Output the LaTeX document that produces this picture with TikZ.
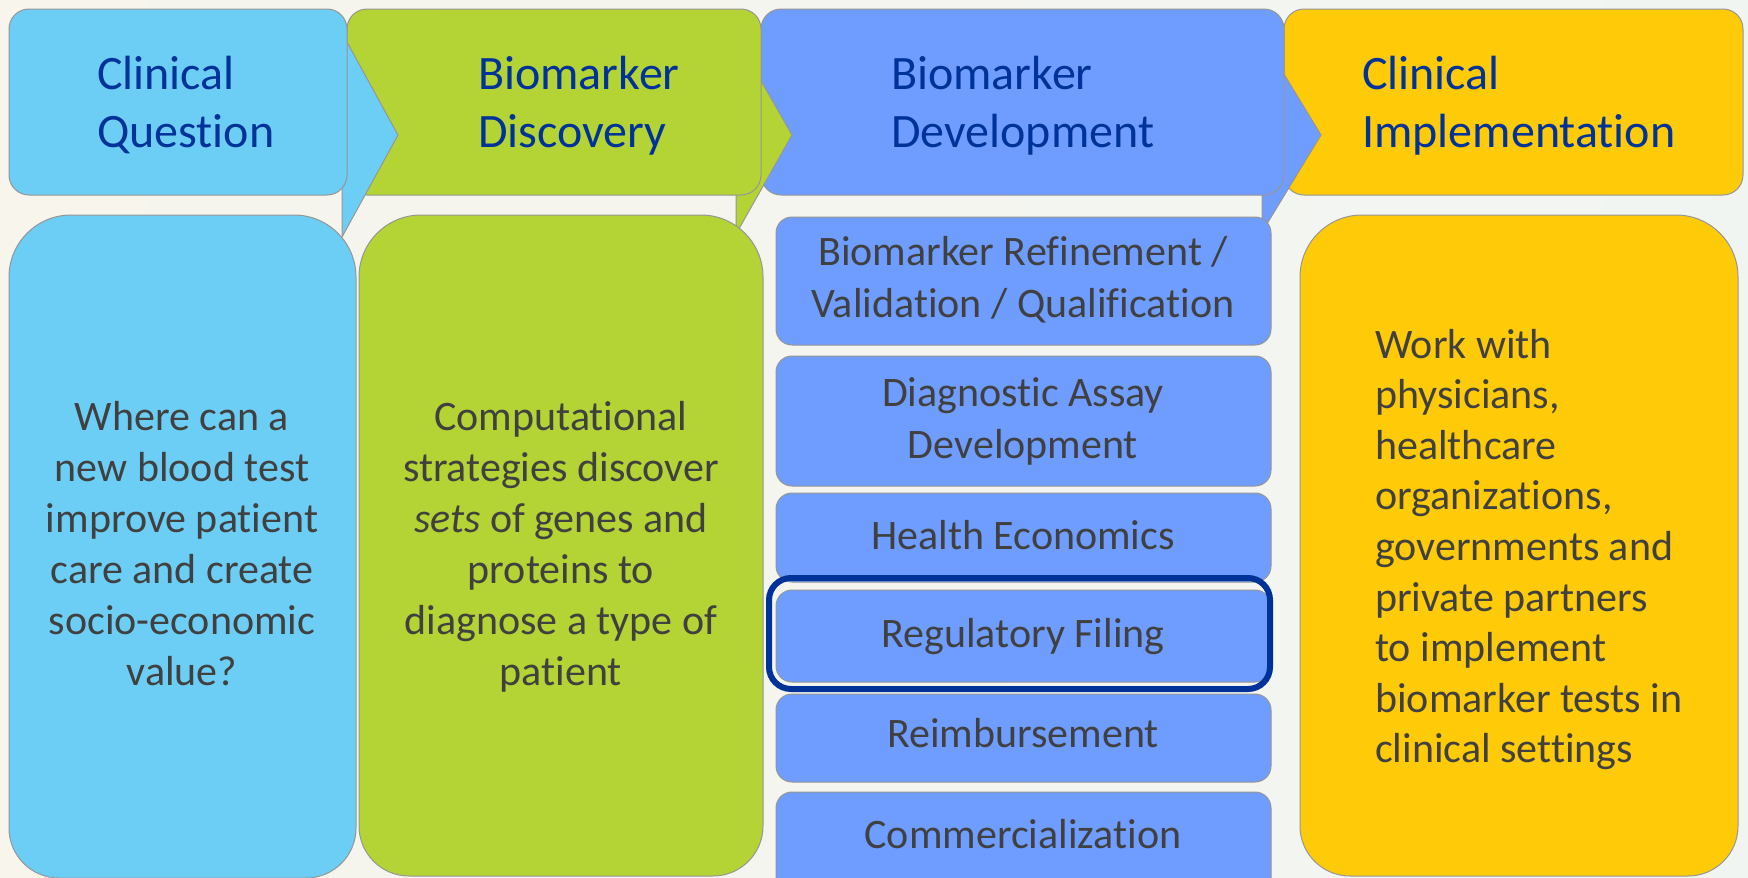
\documentclass[tikz,border=0pt]{standalone}
\usepackage{fontspec}
\setmainfont{Carlito}[Ligatures={NoCommon}]
\definecolor{cqblue}{RGB}{108,206,245}
\definecolor{bdgreen}{RGB}{180,211,52}
\definecolor{dvblue}{RGB}{110,157,255}
\definecolor{ciyel}{RGB}{255,202,8}
\definecolor{hdtext}{RGB}{0,51,153}
\definecolor{bodytext}{RGB}{64,64,64}
\definecolor{edgegray}{RGB}{150,150,150}
\definecolor{bgL}{RGB}{247,245,236}
\definecolor{bgR}{RGB}{241,245,242}
\tikzset{
  hdbox/.style={draw=edgegray, line width=1pt, rounded corners=20pt},
  chev/.style={draw=edgegray, line width=1pt, line join=round},
  subbox/.style={fill=dvblue, draw=edgegray, line width=1pt, rounded corners=16pt},
  tallbox/.style={draw=edgegray, line width=1pt},
  hdtxt/.style={font=\fontsize{48}{58}\selectfont, text=hdtext, inner sep=0pt, anchor=base west},
  bodytxt/.style={font=\fontsize{42}{51}\selectfont, text=bodytext, inner sep=0pt, anchor=base},
  lefttxt/.style={font=\fontsize{42}{51}\selectfont, text=bodytext, inner sep=0pt, anchor=base west},
  hilite/.style={draw=hdtext, line width=6pt, rounded corners=22pt},
}
\newcommand\tallshape[7]{%
  \path[#1] (#2,#3+#6) arc[start angle=180,end angle=270,radius=#6]
    -- (#4-#6,#3) arc[start angle=270,end angle=360,radius=#6]
    -- (#4,#5-#7) arc[start angle=0,end angle=90,radius=#7]
    -- (#2+#7,#5) arc[start angle=90,end angle=180,radius=#7] -- cycle;}
\begin{document}
\begin{tikzpicture}[x=1pt,y=-1pt]
\useasboundingbox (0,0) rectangle (1748,878);
\clip (0,0) rectangle (1748,878);
\shade[left color=bgL, right color=bgR] (0,0) rectangle (1748,878);

% header bar, right to left
\path[hdbox, fill=ciyel] (1284,9) rectangle (1743,195);
\path[chev, fill=dvblue] (1262,38) -- (1321,135) -- (1262,232) -- cycle;
\path[hdbox, fill=dvblue] (761,9) rectangle (1284,195);
\path[chev, fill=bdgreen] (736,37) -- (792,135) -- (736,234) -- cycle;
\path[hdbox, fill=bdgreen] (347,9) rectangle (761,195);
\path[chev, fill=cqblue] (342,33) -- (398,135) -- (342,237) -- cycle;
\path[hdbox, fill=cqblue] (9,9) rectangle (347,195);

% header texts
\node[hdtxt] (h1a) at (97,89) {Clinical};
\node[hdtxt] (h1b) at (97,147) {Question};
\node[hdtxt] (h2a) at (478,89) {Biomarker};
\node[hdtxt] (h2b) at (478,147) {Discovery};
\node[hdtxt] (h3a) at (891,89) {Biomarker};
\node[hdtxt] (h3b) at (891,147) {Development};
\node[hdtxt] (h4a) at (1362,89) {Clinical};
\node[hdtxt] (h4b) at (1362,147) {Implementation};

% lower boxes
\tallshape{tallbox, fill=cqblue}{9}{215}{356}{878}{62}{50}
\tallshape{tallbox, fill=bdgreen}{359}{215}{763}{876}{62}{50}
\tallshape{tallbox, fill=ciyel}{1300}{215}{1738}{876}{62}{50}

\path[subbox] (776,217) rectangle (1271,345);
\path[subbox] (776,356) rectangle (1271,486);
\path[subbox] (776,493) rectangle (1271,582);
\path[subbox] (776,590) rectangle (1271,682);
\path[subbox] (776,694) rectangle (1271,782);
\path[subbox] (776,792) rectangle (1271,900);
\draw[hilite] (769,578) rectangle (1270,689);

% column texts
\foreach \t [count=\i] in {Where can a, new blood test, improve patient, care and create, socio-economic, value?}
  \node[bodytxt] (cq\i) at (182,{430+51*(\i-1)}) {\t};
\foreach \t [count=\i] in {Computational, strategies discover, {\textit{sets} of genes and}, proteins to, diagnose a type of, patient}
  \node[bodytxt] (bd\i) at (561,{430+51*(\i-1)}) {\t};
\foreach \t [count=\i] in {Work with, {physicians,}, healthcare, {organizations,}, governments and, private partners, to implement, biomarker tests in, clinical settings}
  \node[lefttxt] (ci\i) at (1375,{358+50.6*(\i-1)}) {\t};

\node[bodytxt] (s1a) at (1023,265) {Biomarker Refinement /};
\node[bodytxt] (s1b) at (1023,317) {Validation / Qualification};
\node[bodytxt] (s2a) at (1023,406) {Diagnostic Assay};
\node[bodytxt] (s2b) at (1023,458) {Development};
\node[bodytxt] (s3) at (1023,549) {Health Economics};
\node[bodytxt] (s4) at (1023,647) {Regulatory Filing};
\node[bodytxt] (s5) at (1023,747) {Reimbursement};
\node[bodytxt] (s6) at (1023,848) {Commercialization};
\end{tikzpicture}
\end{document}
